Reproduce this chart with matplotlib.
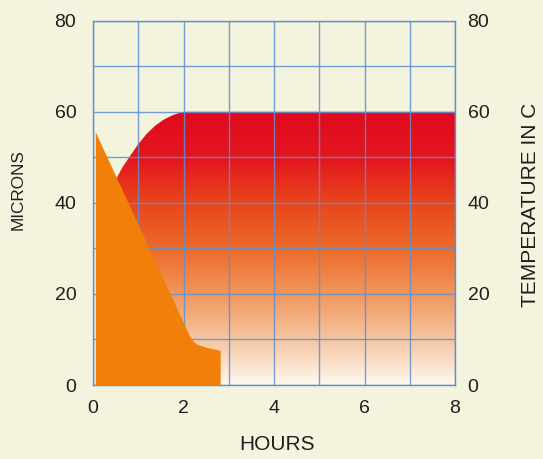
import numpy as np
import matplotlib
matplotlib.use("Agg")
import matplotlib.pyplot as plt
from matplotlib.colors import LinearSegmentedColormap

# data
hours_temp = [0.30, 0.52, 0.65, 0.82, 1.00, 1.19, 1.37, 1.55, 1.75, 1.92, 2.05, 8.00]
temperature = [40.0, 45.4, 47.8, 50.3, 52.9, 55.2, 56.9, 58.2, 59.2, 59.8, 60.0, 60.0]

hours_microns = [0.05, 1.19, 1.77, 2.14, 2.22, 2.29, 2.50, 2.77, 2.81]
microns = [55.6, 31.1, 18.6, 10.6, 9.6, 9.0, 8.3, 7.7, 7.6]

x_ticks = [0, 2, 4, 6, 8]
y_ticks = [0, 20, 40, 60, 80]

bg = "#f4f4de"
grid_col = "#5e8fd0"
text_col = "#1e1e1e"
plt.rcParams['font.family'] = ['Liberation Sans', 'DejaVu Sans']

fig = plt.figure(figsize=(5.43, 4.59), dpi=100, facecolor=bg)
ax = fig.add_axes([93 / 543, 74 / 459, 362 / 543, 364.3 / 459])
ax.set_facecolor(bg)

# red -> white gradient for the temperature area
heat = LinearSegmentedColormap.from_list("heat", [
    (0.00, "#fdf9ef"), (0.05, "#fbe8d6"), (0.17, "#f5c4a0"),
    (0.32, "#f19a60"), (0.50, "#ec6a2a"), (0.67, "#e9441c"),
    (0.82, "#e3181e"), (1.00, "#e00a1e")])
ramp = np.linspace(0, 1, 256).reshape(-1, 1)
im = ax.imshow(ramp, extent=[0, 8, 0, 60], origin="lower", aspect="auto",
               cmap=heat, zorder=1, interpolation="bicubic")
shape = ax.fill_between(hours_temp, temperature, 0, facecolor="none",
                        edgecolor="none")
im.set_clip_path(shape.get_paths()[0], transform=ax.transData)

# microns area on top
ax.fill_between(hours_microns, microns, 0, color="#f27f0a", lw=0, zorder=3)

ax.set_xlim(0, 8)
ax.set_ylim(0, 80)
ax.set_xticks(x_ticks)
ax.set_xticks(range(0, 9), minor=True)
ax.set_yticks(y_ticks)
ax.set_yticks(range(0, 81, 10), minor=True)
ax.grid(which="both", color=grid_col, lw=1.0, alpha=0.85, zorder=2)
ax.set_axisbelow("line")
ax.tick_params(which="both", length=0, labelsize=14, colors=text_col)
ax.tick_params(axis="y", pad=12)
ax.tick_params(axis="x", pad=11)
for s in ax.spines.values():
    s.set_color(grid_col)
    s.set_linewidth(1.0)

ax2 = ax.twinx()
ax2.set_ylim(0, 80)
ax2.set_yticks(y_ticks)
ax2.tick_params(length=0, labelsize=14, colors=text_col, pad=9)
for s in ax2.spines.values():
    s.set_visible(False)

fig.text(18 / 543, 1 - 190 / 459, "MICRONS", rotation=90, ha="center",
         va="center", fontsize=12.3, color=text_col)
fig.text(531 / 543, 1 - 205 / 459, "TEMPERATURE IN C", rotation=90,
         ha="center", va="center", fontsize=15, color=text_col)
fig.text(277 / 543, 1 - 445 / 459, "HOURS", ha="center", va="center",
         fontsize=15, color=text_col)

fig.savefig("out.png", dpi=100, facecolor=bg)
